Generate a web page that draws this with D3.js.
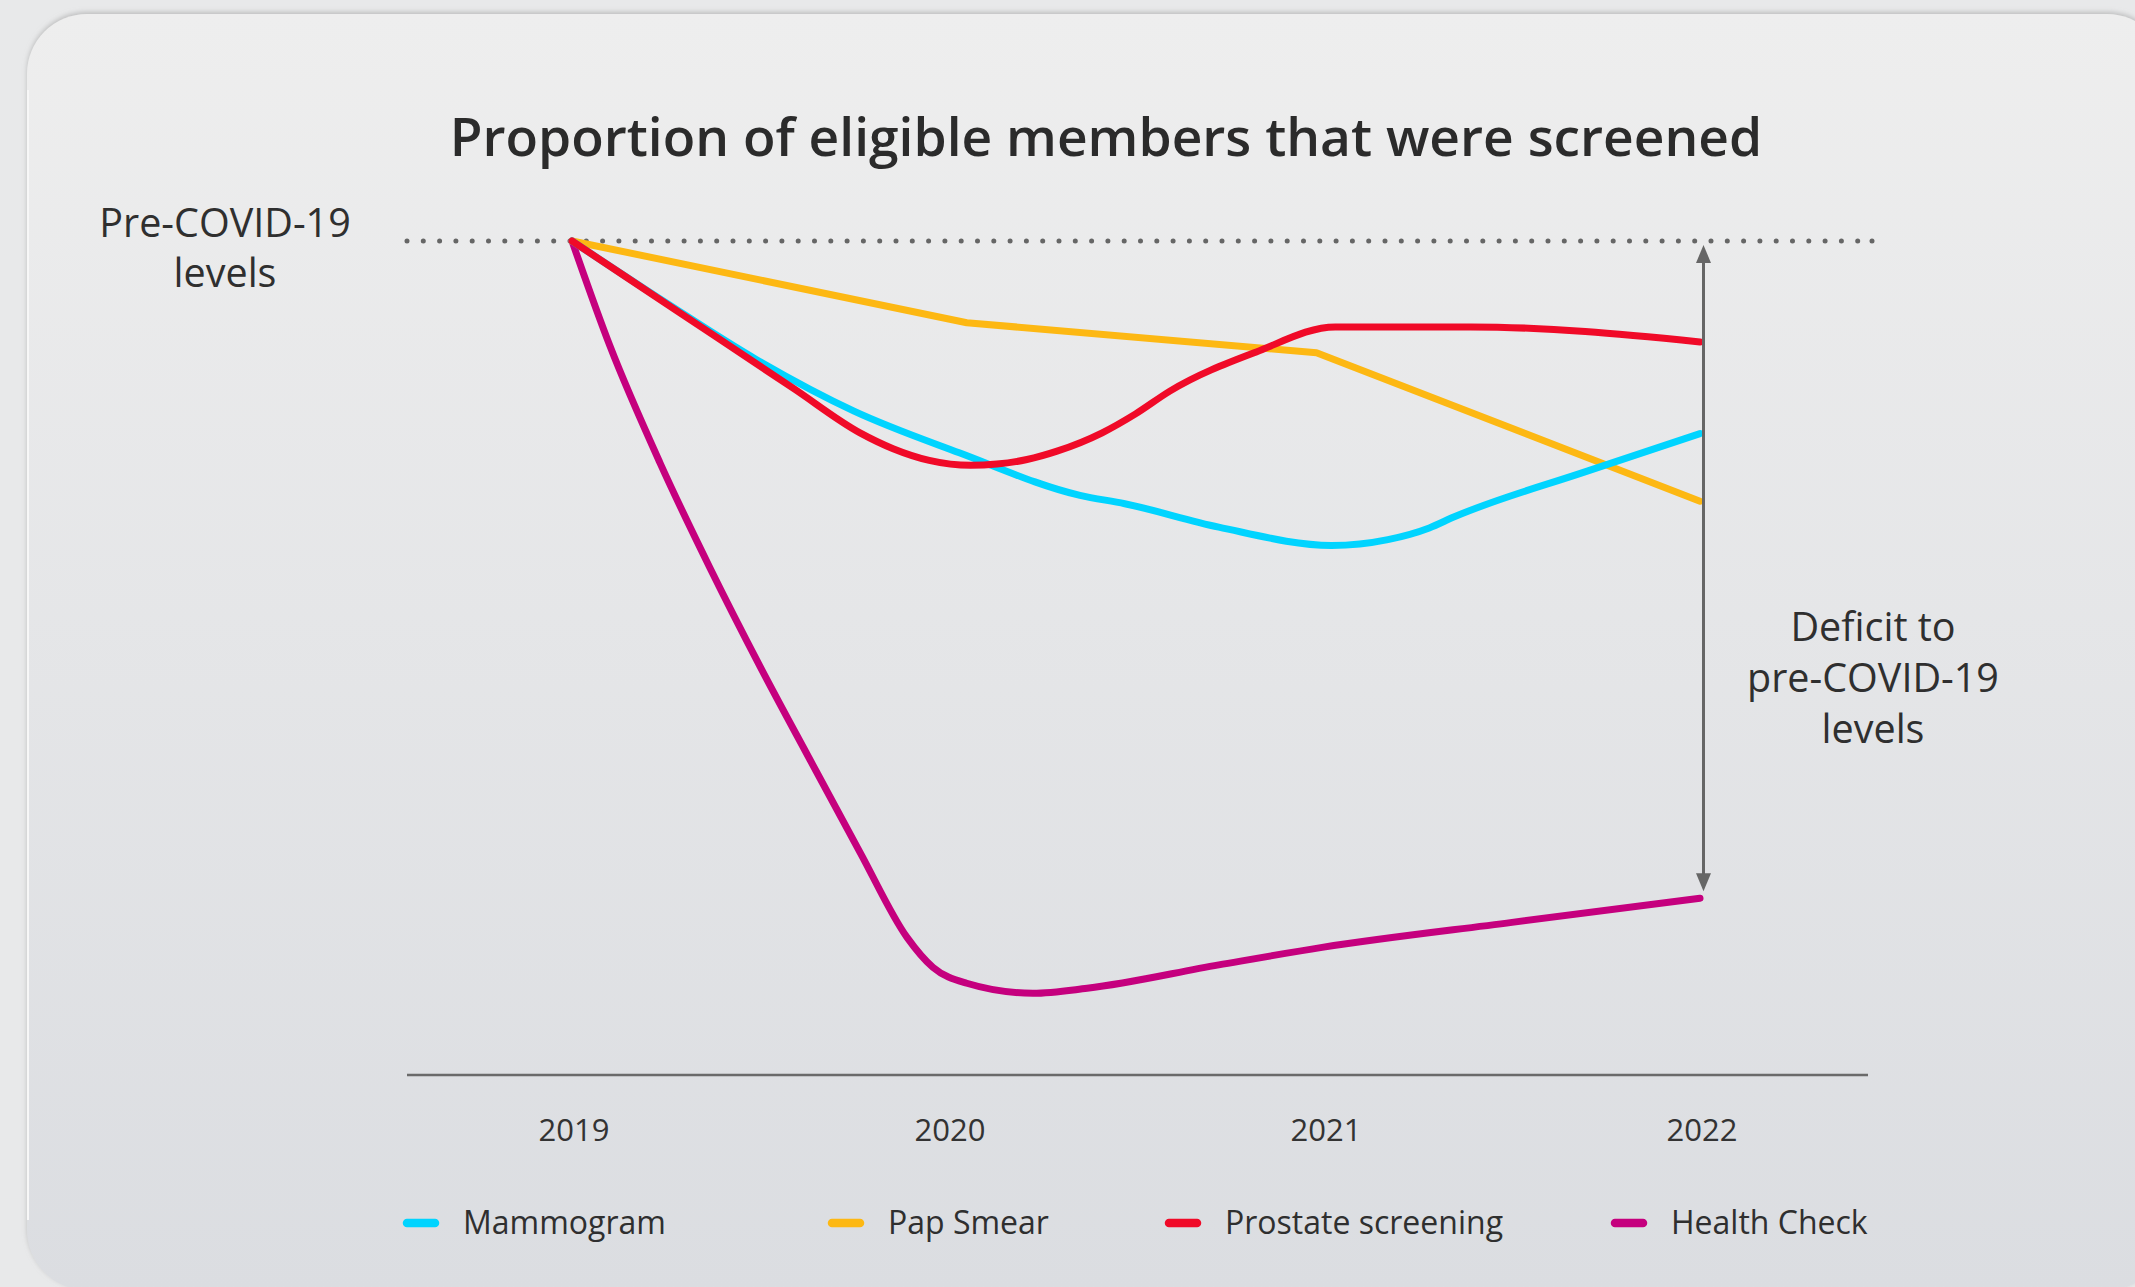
<!DOCTYPE html>
<html>
<head>
<meta charset="utf-8">
<script src="https://cdn.jsdelivr.net/npm/d3@7"></script>
<style>
  html, body { margin: 0; padding: 0; background: #e8e9ea; }
  svg { display: block; font-family: "Open Sans", "Noto Sans", sans-serif; }
</style>
</head>
<body>
<svg id="chart" width="2135" height="1287"></svg>
<script>
// ---- data (values as % of pre-COVID-19 level; x as fractional year) ----
const years = [2019, 2020, 2021, 2022];
const seriesNames = ["Mammogram", "Pap Smear", "Prostate screening", "Health Check"];
const seriesColors = ["#00d4ff", "#fdb813", "#f00a28", "#c5007e"];

const mammogramX = [2019.0, 2019.25, 2019.49, 2019.75, 2020.03, 2020.351, 2020.47, 2020.72, 2021.02, 2021.17, 2021.28, 2021.345, 2021.7, 2022.0];
const mammogramY = [100, 92.6, 85.8, 79.6, 74.6, 69.5, 68.5, 65.7, 63.5, 64.2, 65.6, 66.9, 72.4, 76.9];

const papSmearX = [2019.0, 2020.05, 2020.98, 2022.0];
const papSmearY = [100, 90.2, 86.6, 68.8];

const prostateX = [2019.0, 2019.28, 2019.59, 2019.766, 2019.854, 2019.95, 2020.06, 2020.13, 2020.21, 2020.29, 2020.41, 2020.5, 2020.59, 2020.82, 2021.03, 2021.2, 2021.39, 2022.0];
const prostateY = [100, 91.6, 82.3, 77.0, 75.1, 73.7, 73.1, 73.25, 73.8, 74.8, 77.0, 79.3, 82.0, 86.7, 89.7, 89.7, 89.7, 87.9];

const healthCheckX = [2019.0, 2019.101, 2019.234, 2019.367, 2019.5, 2019.633, 2019.766, 2019.891, 2019.96, 2020.05, 2020.226, 2020.37, 2020.72, 2020.995, 2021.5, 2022.0];
const healthCheckY = [100, 87.4, 73.4, 60.8, 49.0, 37.8, 26.7, 16.5, 12.9, 11.0, 9.8, 10.4, 13.2, 15.3, 18.3, 21.2];

const titleText = "Proportion of eligible members that were screened";
const preCovidLabel = ["Pre-COVID-19", "levels"];
const deficitLabel = ["Deficit to", "pre-COVID-19", "levels"];
const baselineValue = 100;

// ---- layout ----
const W = 2135, H = 1287;
const svg = d3.select("#chart");
const defs = svg.append("defs");

const grad = defs.append("linearGradient").attr("id", "cardGrad")
  .attr("x1", 0).attr("y1", 0).attr("x2", 0).attr("y2", 1);
grad.append("stop").attr("offset", "0%").attr("stop-color", "#eeeeee");
grad.append("stop").attr("offset", "100%").attr("stop-color", "#dbdde1");

const shadow = defs.append("filter").attr("id", "cardShadow")
  .attr("x", "-5%").attr("y", "-5%").attr("width", "110%").attr("height", "110%");
shadow.append("feDropShadow").attr("dx", 0).attr("dy", -2).attr("stdDeviation", 2.5)
  .attr("flood-color", "#9a9a9a").attr("flood-opacity", 0.55);

svg.append("rect").attr("width", W).attr("height", H).attr("fill", "#e8e9ea");
svg.append("rect")
  .attr("x", 27).attr("y", 14).attr("width", 2140).attr("height", 1276)
  .attr("rx", 60).attr("ry", 60)
  .attr("fill", "url(#cardGrad)")
  .attr("filter", "url(#cardShadow)");
// left highlight
svg.append("path")
  .attr("d", "M28,90 L28,1220")
  .attr("stroke", "#f7f7f7").attr("stroke-width", 2).attr("fill", "none");

const x = d3.scaleLinear().domain([2019, 2022]).range([572, 1700]);
const y = d3.scaleLinear().domain([0, 100]).range([1075, 241]);

// title
svg.append("text")
  .attr("x", 1106).attr("y", 156)
  .attr("text-anchor", "middle")
  .attr("font-size", 53.3).attr("font-weight", 600)
  .attr("fill", "#2b2b2b")
  .text(titleText);

// dotted pre-COVID line
svg.append("line")
  .attr("x1", 407).attr("x2", 1872)
  .attr("y1", y(baselineValue)).attr("y2", y(baselineValue))
  .attr("stroke", "#666").attr("stroke-width", 5)
  .attr("stroke-linecap", "round")
  .attr("stroke-dasharray", "0 16.3");
svg.append("circle").attr("cx", 1872).attr("cy", y(baselineValue)).attr("r", 2.5).attr("fill", "#666");

// pre-COVID label
const pre = svg.append("text")
  .attr("text-anchor", "middle").attr("font-size", 39.5).attr("fill", "#2f2f2f");
preCovidLabel.forEach((t, i) => {
  pre.append("tspan").attr("x", 225).attr("y", 237 + i * 50).text(t);
});

// x axis
svg.append("line")
  .attr("x1", 407).attr("x2", 1868).attr("y1", y(0)).attr("y2", y(0))
  .attr("stroke", "#6a6a6a").attr("stroke-width", 2.6);

const axis = d3.axisBottom(x).tickValues(years).tickSize(0).tickPadding(44).tickFormat(d3.format("d"));
const gAxis = svg.append("g").attr("transform", `translate(1.5,${y(0)})`).call(axis);
gAxis.select(".domain").remove();
gAxis.selectAll("text")
  .attr("font-size", 31).attr("font-family", "'Open Sans', sans-serif").attr("fill", "#333");

// series lines
const seriesX = [mammogramX, papSmearX, prostateX, healthCheckX];
const seriesY = [mammogramY, papSmearY, prostateY, healthCheckY];
const seriesCurve = [d3.curveMonotoneX, d3.curveLinear, d3.curveMonotoneX, d3.curveMonotoneX];

// draw order: health, pap, mammogram, prostate (prostate on top)
const order = [3, 1, 0, 2];
order.forEach(i => {
  const pts = seriesX[i].map((v, k) => [v, seriesY[i][k]]);
  const line = d3.line().x(d => x(d[0])).y(d => y(d[1])).curve(seriesCurve[i]);
  svg.append("path")
    .datum(pts)
    .attr("d", line)
    .attr("fill", "none")
    .attr("stroke", seriesColors[i])
    .attr("stroke-width", 7)
    .attr("stroke-linecap", "round")
    .attr("stroke-linejoin", "round");
});

// deficit arrow at 2022
const ax = x(2022) + 3.5;
const topTip = y(baselineValue) + 4;
const hcLast = healthCheckY[healthCheckY.length - 1];
const botTip = y(hcLast) - 7;
const headH = 18, headW = 7.5;
svg.append("line")
  .attr("x1", ax).attr("x2", ax).attr("y1", topTip + headH - 2).attr("y2", botTip - headH + 2)
  .attr("stroke", "#666").attr("stroke-width", 3);
svg.append("path")
  .attr("d", `M${ax},${topTip} L${ax + headW},${topTip + headH} L${ax - headW},${topTip + headH} Z`)
  .attr("fill", "#666");
svg.append("path")
  .attr("d", `M${ax},${botTip} L${ax + headW},${botTip - headH} L${ax - headW},${botTip - headH} Z`)
  .attr("fill", "#666");

const def = svg.append("text")
  .attr("text-anchor", "middle").attr("font-size", 39.5).attr("fill", "#2f2f2f");
deficitLabel.forEach((t, i) => {
  def.append("tspan").attr("x", 1873).attr("y", 641 + i * 51).text(t);
});

// legend
const legendX = [403, 828, 1165, 1611];
const legendY = 1223;
const lg = svg.append("g");
seriesNames.forEach((name, i) => {
  lg.append("line")
    .attr("x1", legendX[i] + 4).attr("x2", legendX[i] + 32)
    .attr("y1", legendY).attr("y2", legendY)
    .attr("stroke", seriesColors[i]).attr("stroke-width", 8.5)
    .attr("stroke-linecap", "round");
  lg.append("text")
    .attr("x", legendX[i] + 60).attr("y", legendY + 11)
    .attr("font-size", 32).attr("fill", "#2f2f2f")
    .text(name);
});
</script>
</body>
</html>
